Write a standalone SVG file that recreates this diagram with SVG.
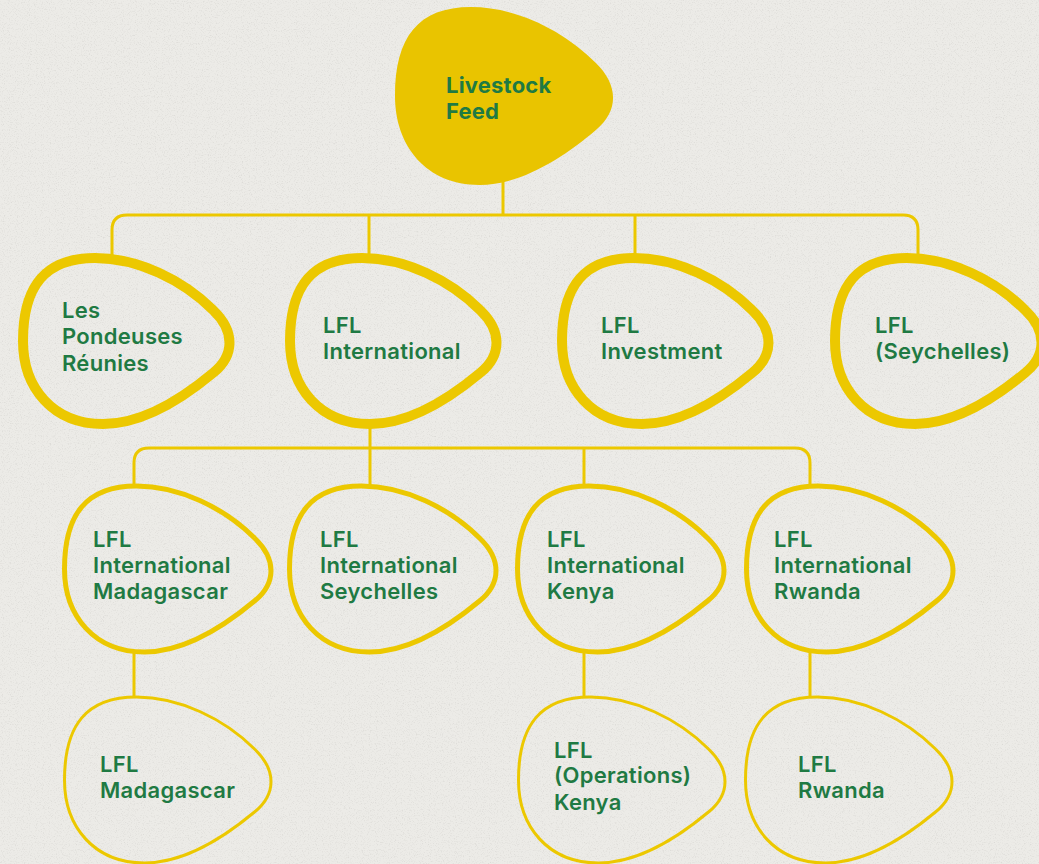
<svg xmlns="http://www.w3.org/2000/svg" xmlns:xlink="http://www.w3.org/1999/xlink" width="1039" height="864" viewBox="0 0 1039 864">
  <style>
    .bg { fill: #ecebe7; }
    .egg-fill { fill: #e9c400; stroke: none; }
    .egg { fill: none; stroke: #ecc800; stroke-linejoin: round; }
    .l2 { stroke-width: 10; }
    .l3 { stroke-width: 5; }
    .l4 { stroke-width: 3; }
    .wire { fill: none; stroke: #ecc800; stroke-width: 3; stroke-linecap: butt; }
    .label { font-family: Inter, "Noto Sans", "Liberation Sans", sans-serif; font-size: 22px; font-weight: 600; letter-spacing: 0.3px; fill: #1f7a43; }
    .head { font-weight: 700; letter-spacing: 0.2px; }
  </style>
  <defs>
    <!-- rounded egg outline, centre-line box about 206 x 166, tip pointing right -->
    <path id="egg" d="M0,83 C0,28 22,0 72,0 C115,0 160,22 190,52 C212,73 212,97 190,115 C160,140 120,166 80,166 C30,166 0,130 0,83 Z"/>
    <filter id="grain" x="0" y="0" width="100%" height="100%">
      <feTurbulence type="fractalNoise" baseFrequency="0.85" numOctaves="2" seed="7"/>
      <feColorMatrix type="matrix" values="0 0 0 0 0.42  0 0 0 0 0.41  0 0 0 0 0.39  1.4 0 0 0 -0.72"/>
    </filter>
  </defs>

  <!-- paper -->
  <rect class="bg" x="0" y="0" width="1039" height="864"/>
  <rect x="0" y="0" width="1039" height="864" filter="url(#grain)" opacity="0.5"/>

  <!-- connectors -->
  <g id="connectors">
    <path class="wire" d="M503,180 V215"/>
    <path class="wire" d="M112,259 V230 Q112,215 127,215 H903 Q918,215 918,230 V259"/>
    <path class="wire" d="M369,215 V259"/>
    <path class="wire" d="M635,215 V259"/>
    <path class="wire" d="M370,423 V448"/>
    <path class="wire" d="M134,486 V463 Q134,448 149,448 H795 Q810,448 810,463 V486"/>
    <path class="wire" d="M370,448 V486"/>
    <path class="wire" d="M584,448 V486"/>
    <path class="wire" d="M134,651 V697"/>
    <path class="wire" d="M584,651 V697"/>
    <path class="wire" d="M810,651 V697"/>
  </g>

  <!-- root -->
  <g id="livestock-feed">
    <use xlink:href="#egg" href="#egg" class="egg-fill" transform="translate(395,7) scale(1.056,1.072)"/>
    <text class="label head" x="446" y="93">Livestock</text>
    <text class="label head" x="446" y="119">Feed</text>
  </g>

  <!-- second tier -->
  <g id="les-pondeuses-reunies">
    <use xlink:href="#egg" href="#egg" class="egg l2" transform="translate(23,258)"/>
    <text class="label" x="62" y="318">Les</text>
    <text class="label" x="62" y="344">Pondeuses</text>
    <text class="label" x="62" y="371">Réunies</text>
  </g>
  <g id="lfl-international">
    <use xlink:href="#egg" href="#egg" class="egg l2" transform="translate(290,258)"/>
    <text class="label" x="323" y="333">LFL</text>
    <text class="label" x="323" y="359">International</text>
  </g>
  <g id="lfl-investment">
    <use xlink:href="#egg" href="#egg" class="egg l2" transform="translate(562,258)"/>
    <text class="label" x="601" y="333">LFL</text>
    <text class="label" x="601" y="359">Investment</text>
  </g>
  <g id="lfl-seychelles">
    <use xlink:href="#egg" href="#egg" class="egg l2" transform="translate(835,258)"/>
    <text class="label" x="875" y="333">LFL</text>
    <text class="label" x="875" y="359">(Seychelles)</text>
  </g>

  <!-- third tier -->
  <g id="lfl-international-madagascar">
    <use xlink:href="#egg" href="#egg" class="egg l3" transform="translate(64.5,486)"/>
    <text class="label" x="93" y="547">LFL</text>
    <text class="label" x="93" y="573">International</text>
    <text class="label" x="93" y="599">Madagascar</text>
  </g>
  <g id="lfl-international-seychelles">
    <use xlink:href="#egg" href="#egg" class="egg l3" transform="translate(289.5,486)"/>
    <text class="label" x="320" y="547">LFL</text>
    <text class="label" x="320" y="573">International</text>
    <text class="label" x="320" y="599">Seychelles</text>
  </g>
  <g id="lfl-international-kenya">
    <use xlink:href="#egg" href="#egg" class="egg l3" transform="translate(517.5,486)"/>
    <text class="label" x="547" y="547">LFL</text>
    <text class="label" x="547" y="573">International</text>
    <text class="label" x="547" y="599">Kenya</text>
  </g>
  <g id="lfl-international-rwanda">
    <use xlink:href="#egg" href="#egg" class="egg l3" transform="translate(746.5,486)"/>
    <text class="label" x="774" y="547">LFL</text>
    <text class="label" x="774" y="573">International</text>
    <text class="label" x="774" y="599">Rwanda</text>
  </g>

  <!-- fourth tier -->
  <g id="lfl-madagascar">
    <use xlink:href="#egg" href="#egg" class="egg l4" transform="translate(64.5,697)"/>
    <text class="label" x="100" y="772">LFL</text>
    <text class="label" x="100" y="798">Madagascar</text>
  </g>
  <g id="lfl-operations-kenya">
    <use xlink:href="#egg" href="#egg" class="egg l4" transform="translate(518.5,697)"/>
    <text class="label" x="554" y="758">LFL</text>
    <text class="label" x="554" y="783">(Operations)</text>
    <text class="label" x="554" y="810">Kenya</text>
  </g>
  <g id="lfl-rwanda">
    <use xlink:href="#egg" href="#egg" class="egg l4" transform="translate(745.5,697)"/>
    <text class="label" x="798" y="772">LFL</text>
    <text class="label" x="798" y="798">Rwanda</text>
  </g>
</svg>
